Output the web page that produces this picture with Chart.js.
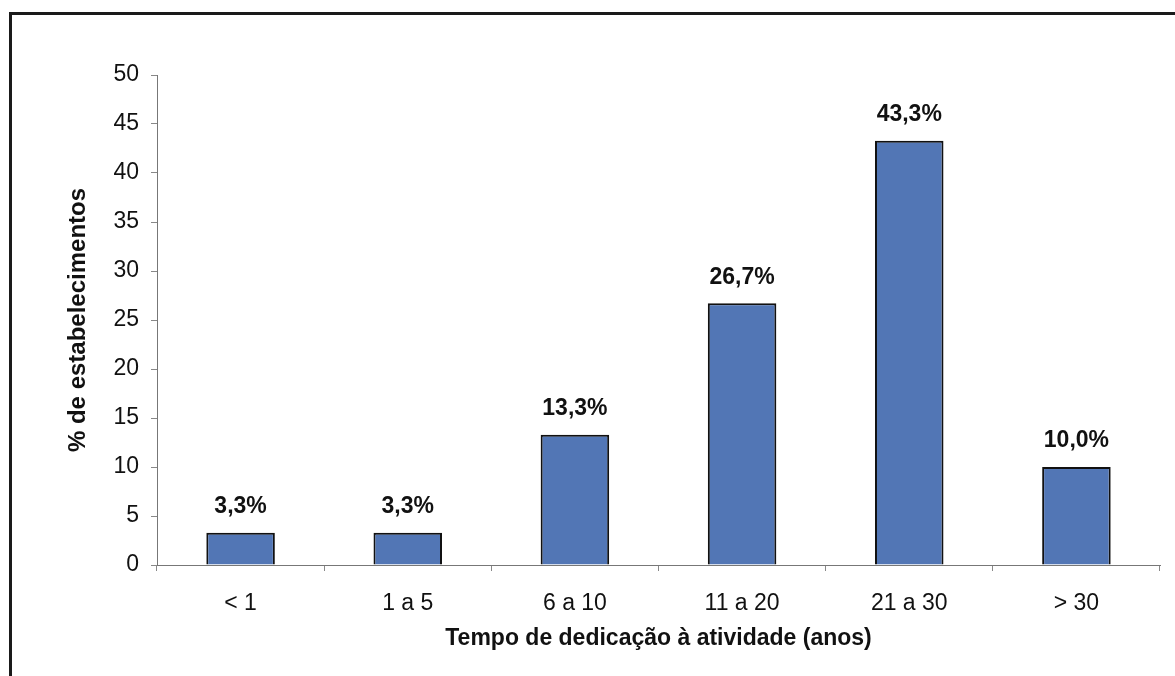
<!DOCTYPE html>
<html>
<head>
<meta charset="utf-8">
<script src="https://cdn.jsdelivr.net/npm/chart.js@4/dist/chart.umd.min.js"></script>
<style>
  html, body { margin: 0; padding: 0; background: #fff; }
  body { width: 1175px; height: 676px; position: relative; overflow: hidden; }
  #frame { position: absolute; left: 9px; top: 12px; width: 1300px; height: 800px;
           border-left: 3px solid #1a1a1a; border-top: 3px solid #1a1a1a; box-sizing: border-box; }
  #wrap { position: absolute; left: 0; top: 0; width: 1175px; height: 676px; }
</style>
</head>
<body>
<div id="frame"></div>
<div id="wrap"><canvas id="c" width="1175" height="676"></canvas></div>
<script>
// Time devoted to the activity (years) and share of establishments (%)
const categories = ['< 1', '1 a 5', '6 a 10', '11 a 20', '21 a 30', '> 30'];
const shares = [3.3, 3.3, 13.3, 26.7, 43.3, 10.0];
const yTicks = [0, 5, 10, 15, 20, 25, 30, 35, 40, 45, 50];

const FONT = '"Liberation Sans", Arial, sans-serif';

// Percent label above each bar, written with a decimal comma
const valueLabels = {
  id: 'valueLabels',
  afterDatasetsDraw(chart) {
    const ctx = chart.ctx;
    const meta = chart.getDatasetMeta(0);
    ctx.save();
    ctx.font = 'bold 23px ' + FONT;
    ctx.fillStyle = '#111';
    ctx.textAlign = 'center';
    ctx.textBaseline = 'middle';
    meta.data.forEach((bar, i) => {
      const txt = shares[i].toFixed(1).replace('.', ',') + '%';
      ctx.fillText(txt, bar.x, bar.y - 26);
    });
    ctx.restore();
  }
};

new Chart(document.getElementById('c'), {
  type: 'bar',
  data: {
    labels: categories,
    datasets: [{
      data: shares,
      backgroundColor: '#5276b5',
      borderColor: '#111',
      borderWidth: 2,
      barPercentage: 0.41,
      categoryPercentage: 1.0
    }]
  },
  options: {
    responsive: false,
    animation: false,
    layout: { padding: { left: 0, right: 15, top: 75, bottom: 0 } },
    plugins: { legend: { display: false }, tooltip: { enabled: false } },
    scales: {
      x: {
        afterFit(s) { s.height = 111; },
        grid: { display: true, drawOnChartArea: false, drawTicks: true, tickLength: 6,
                offset: true, color: '#888', lineWidth: 1 },
        border: { display: true, color: '#777', width: 1 },
        ticks: { color: '#111', font: { family: FONT, size: 23 }, padding: 19, maxRotation: 0 },
        title: { display: true, text: 'Tempo de dedicação à atividade (anos)', color: '#111',
                 font: { family: FONT, size: 23, weight: 'bold' }, padding: { top: 0, bottom: 24 } }
      },
      y: {
        min: 0, max: 50,
        afterFit(s) { s.width = 157; },
        afterBuildTicks(s) { s.ticks = yTicks.map(v => ({ value: v })); },
        grid: { display: true, drawOnChartArea: false, drawTicks: true, tickLength: 6,
                color: '#888', lineWidth: 1 },
        border: { display: true, color: '#777', width: 1 },
        ticks: { color: '#111', font: { family: FONT, size: 23 }, padding: 12 },
        title: { display: true, text: '% de estabelecimentos', color: '#111',
                 font: { family: FONT, size: 24, weight: 'bold' }, padding: { top: 64, bottom: 0 } }
      }
    }
  },
  plugins: [valueLabels]
});
</script>
</body>
</html>
